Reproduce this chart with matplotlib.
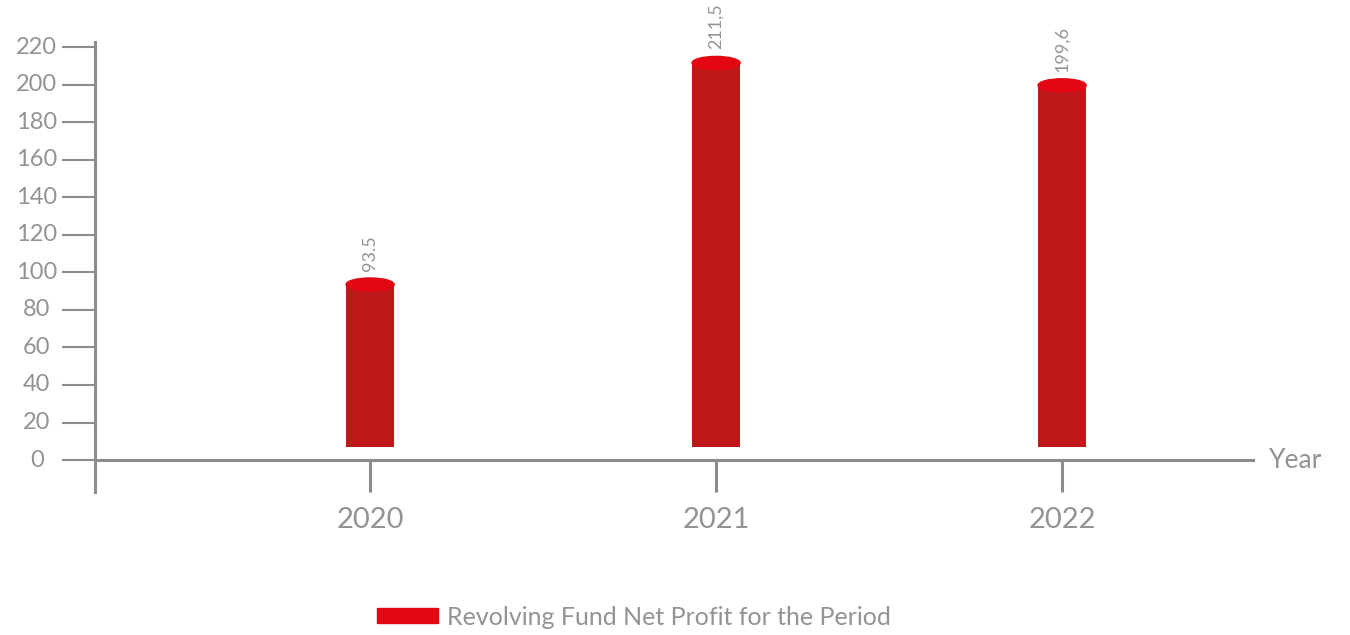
import matplotlib
matplotlib.use('Agg')
import matplotlib.pyplot as plt
from matplotlib.patches import Ellipse, Patch

years = [2020, 2021, 2022]
profit = [93.5, 211.5, 199.6]
value_labels = ['93.5', '211,5', '199,6']
yticks = [0, 20, 40, 60, 80, 100, 120, 140, 160, 180, 200, 220]
legend_label = 'Revolving Fund Net Profit for the Period'

grey = '#8c8c90'
txt = '#939397'
body = '#be1818'
cap = '#e30613'

plt.rcParams['font.family'] = ['Lato', 'DejaVu Sans']

fig = plt.figure(figsize=(13.5, 6.35), dpi=100)
ax = fig.add_axes([0.0704, 0.2252, 0.8578, 0.7087])

base = 7
width = 0.139
ax.bar(years, [v - base for v in profit], bottom=base, width=width,
       color=body, zorder=2)
for x, v, lab in zip(years, profit, value_labels):
    ax.add_patch(Ellipse((x, v), width, 7, color=cap, zorder=3))
    ax.annotate(lab, (x, v + 3.5), xytext=(0, 5), textcoords='offset points',
                rotation=90, ha='center', va='bottom', fontsize=13, color=txt)

ax.set_xlim(2019.205, 2022.552)
ax.set_ylim(-17, 222.7)

for s in ['top', 'right']:
    ax.spines[s].set_visible(False)
ax.spines['bottom'].set_position(('data', 0))
for s in ['left', 'bottom']:
    ax.spines[s].set_color(grey)
    ax.spines[s].set_linewidth(2.2)

ax.set_xticks(years)
ax.set_xticklabels([str(y) for y in years])
ax.tick_params(axis='x', length=23, width=2.2, color=grey, labelcolor=txt,
               labelsize=21, pad=10.5)
ax.set_yticks(yticks)
ax.set_yticklabels([])
ax.tick_params(axis='y', length=24, width=1.5, color=grey)
for t in yticks:
    ax.text(-0.0504, t, str(t), transform=ax.get_yaxis_transform(),
            ha='center', va='center', fontsize=17, color=txt)

ax.text(1.014, 0, 'Year', transform=ax.get_yaxis_transform(),
        ha='left', va='center', fontsize=19, color=txt)

fig.legend(handles=[Patch(color=cap, label=legend_label)],
           loc='center', bbox_to_anchor=(0.4696, 0.0283), frameon=False,
           fontsize=18, labelcolor=txt, handlelength=2.44, handleheight=0.52,
           handletextpad=0.36)

fig.savefig('out.png', dpi=100)
